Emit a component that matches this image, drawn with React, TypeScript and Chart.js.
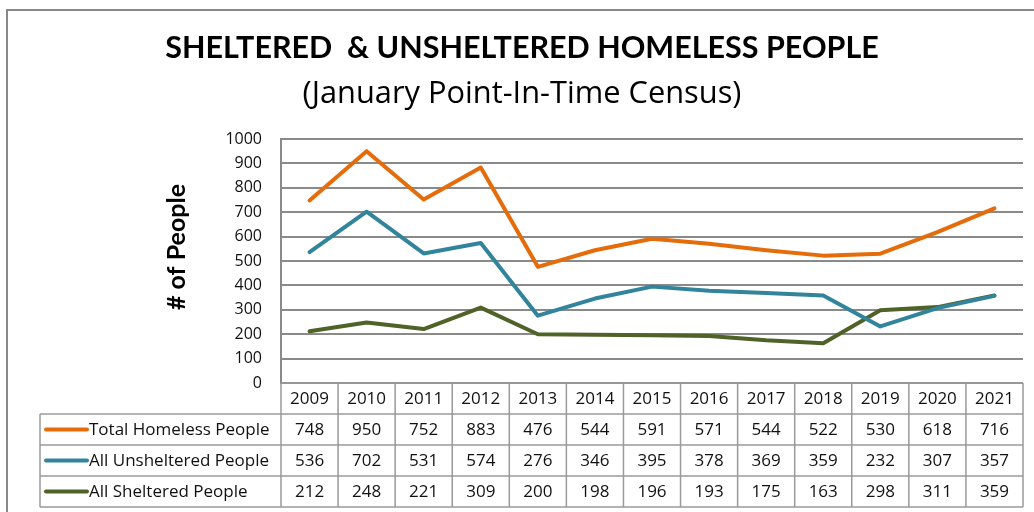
import { useEffect, useRef } from 'react';
import { Chart, registerables } from 'chart.js';

Chart.register(...registerables);

const years = ['2009', '2010', '2011', '2012', '2013', '2014', '2015', '2016', '2017', '2018', '2019', '2020', '2021'];
const totalHomeless = [748, 950, 752, 883, 476, 544, 591, 571, 544, 522, 530, 618, 716];
const allUnsheltered = [536, 702, 531, 574, 276, 346, 395, 378, 369, 359, 232, 307, 357];
const allSheltered = [212, 248, 221, 309, 200, 198, 196, 193, 175, 163, 298, 311, 359];
const seriesNames = ['Total Homeless People', 'All Unsheltered People', 'All Sheltered People'];
const seriesColors = ['#E46C0A', '#31849B', '#4F6228'];
const yMin = 0;
const yMax = 1000;
const yStep = 100;
const titleText = 'SHELTERED  & UNSHELTERED HOMELESS PEOPLE';
const subtitleText = '(January Point-In-Time Census)';
const yAxisTitle = '# of People';

const FONT = 'Lato, "Open Sans", sans-serif';
const BODY_FONT = '"Open Sans", Lato, sans-serif';
const GRID = '#8a8a8a';
const TABLE_LINE = '#9a9a9a';

const decorations = {
  id: 'decorations',
  beforeDraw(chart: any) {
    const { ctx, width, height } = chart;
    ctx.save();
    ctx.fillStyle = '#fff';
    ctx.fillRect(0, 0, width, height);
    // outer frame
    ctx.strokeStyle = '#888';
    ctx.lineWidth = 2;
    ctx.beginPath();
    ctx.moveTo(7, height + 5);
    ctx.lineTo(7, 10);
    ctx.lineTo(width + 5, 10);
    ctx.stroke();
    // titles
    ctx.fillStyle = '#000';
    ctx.textAlign = 'center';
    ctx.textBaseline = 'alphabetic';
    ctx.font = `bold 30.5px ${FONT}`;
    ctx.fillText(titleText, 522, 58);
    ctx.font = `30.8px ${BODY_FONT}`;
    ctx.fillText(subtitleText, 522, 103);
    // y axis title
    ctx.translate(177, 247);
    ctx.rotate(-Math.PI / 2);
    ctx.font = `bold 25px ${FONT}`;
    ctx.textBaseline = 'middle';
    ctx.fillText(yAxisTitle, 0, 0);
    ctx.restore();
  },
  afterDraw(chart: any) {
    const { ctx, chartArea } = chart;
    const x = chart.scales.x;
    const n = years.length;
    const colW = x.getPixelForValue(1) - x.getPixelForValue(0);
    const left0 = x.getPixelForValue(0) - colW / 2;
    const right = x.getPixelForValue(n - 1) + colW / 2;
    const rowH = 31;
    const top = chartArea.bottom;
    const legendLeft = 40;
    const rows = [totalHomeless, allUnsheltered, allSheltered];
    const bottom = top + rowH * (rows.length + 1);

    ctx.save();
    ctx.strokeStyle = TABLE_LINE;
    ctx.lineWidth = 1.5;
    ctx.beginPath();
    ctx.moveTo(left0, top);
    ctx.lineTo(right, top);
    for (let r = 1; r <= rows.length + 1; r++) {
      const y = top + r * rowH;
      ctx.moveTo(legendLeft, y);
      ctx.lineTo(right, y);
    }
    for (let i = 0; i <= n; i++) {
      const xx = left0 + i * colW;
      ctx.moveTo(xx, top);
      ctx.lineTo(xx, bottom);
    }
    ctx.moveTo(legendLeft, top + rowH);
    ctx.lineTo(legendLeft, bottom);
    ctx.stroke();

    ctx.fillStyle = '#111';
    ctx.font = `17px ${BODY_FONT}`;
    ctx.textBaseline = 'middle';
    ctx.textAlign = 'center';
    years.forEach((yr, i) => {
      ctx.fillText(yr, x.getPixelForValue(i), top + rowH / 2 + 1);
    });
    rows.forEach((vals, r) => {
      const cy = top + rowH * (r + 1) + rowH / 2 + 1;
      vals.forEach((v, i) => {
        ctx.fillText(String(v), x.getPixelForValue(i), cy);
      });
    });
    rows.forEach((_, r) => {
      const cy = top + rowH * (r + 1) + rowH / 2;
      ctx.strokeStyle = seriesColors[r];
      ctx.lineWidth = 4;
      ctx.lineCap = 'round';
      ctx.beginPath();
      ctx.moveTo(46, cy);
      ctx.lineTo(87, cy);
      ctx.stroke();
      ctx.textAlign = 'left';
      ctx.fillStyle = '#111';
      ctx.fillText(seriesNames[r], 89, cy + 1);
    });
    ctx.restore();
  },
};

export default function App() {
  const ref = useRef<HTMLCanvasElement | null>(null);
  useEffect(() => {
    if (!ref.current) return;
    const mk = (label: string, data: number[], color: string) => ({
      label,
      data,
      borderColor: color,
      backgroundColor: color,
      borderWidth: 4,
      pointRadius: 0,
      pointHoverRadius: 0,
      tension: 0,
      fill: false,
      borderJoinStyle: 'round' as const,
      borderCapStyle: 'round' as const,
    });
    const chart = new Chart(ref.current, {
      type: 'line',
      data: {
        labels: years,
        datasets: [
          mk(seriesNames[0], totalHomeless, seriesColors[0]),
          mk(seriesNames[1], allUnsheltered, seriesColors[1]),
          mk(seriesNames[2], allSheltered, seriesColors[2]),
        ],
      },
      options: {
        responsive: false,
        animation: false,
        devicePixelRatio: 1,
        layout: { padding: { top: 139, left: 0, right: 11, bottom: 129 } },
        plugins: {
          legend: { display: false },
          tooltip: { enabled: false },
          title: { display: false },
        },
        scales: {
          x: {
            type: 'category',
            offset: true,
            display: false,
          },
          y: {
            min: yMin,
            max: yMax,
            afterFit: (scale: any) => {
              scale.width = 281;
            },
            ticks: {
              stepSize: yStep,
              padding: 19,
              color: '#111',
              font: { family: BODY_FONT, size: 16 },
              callback: (v: any) => String(v),
            },
            grid: { color: GRID, lineWidth: 2, drawTicks: false },
            border: { display: true, color: GRID, width: 2 },
          },
        },
      },
      plugins: [decorations],
    });
    return () => chart.destroy();
  }, []);
  return (
    <div style={{ position: 'fixed', left: 0, top: 0, width: 1034, height: 512, background: '#fff' }}>
      <canvas ref={ref} width={1034} height={512} style={{ display: 'block', width: 1034, height: 512 }} />
    </div>
  );
}
